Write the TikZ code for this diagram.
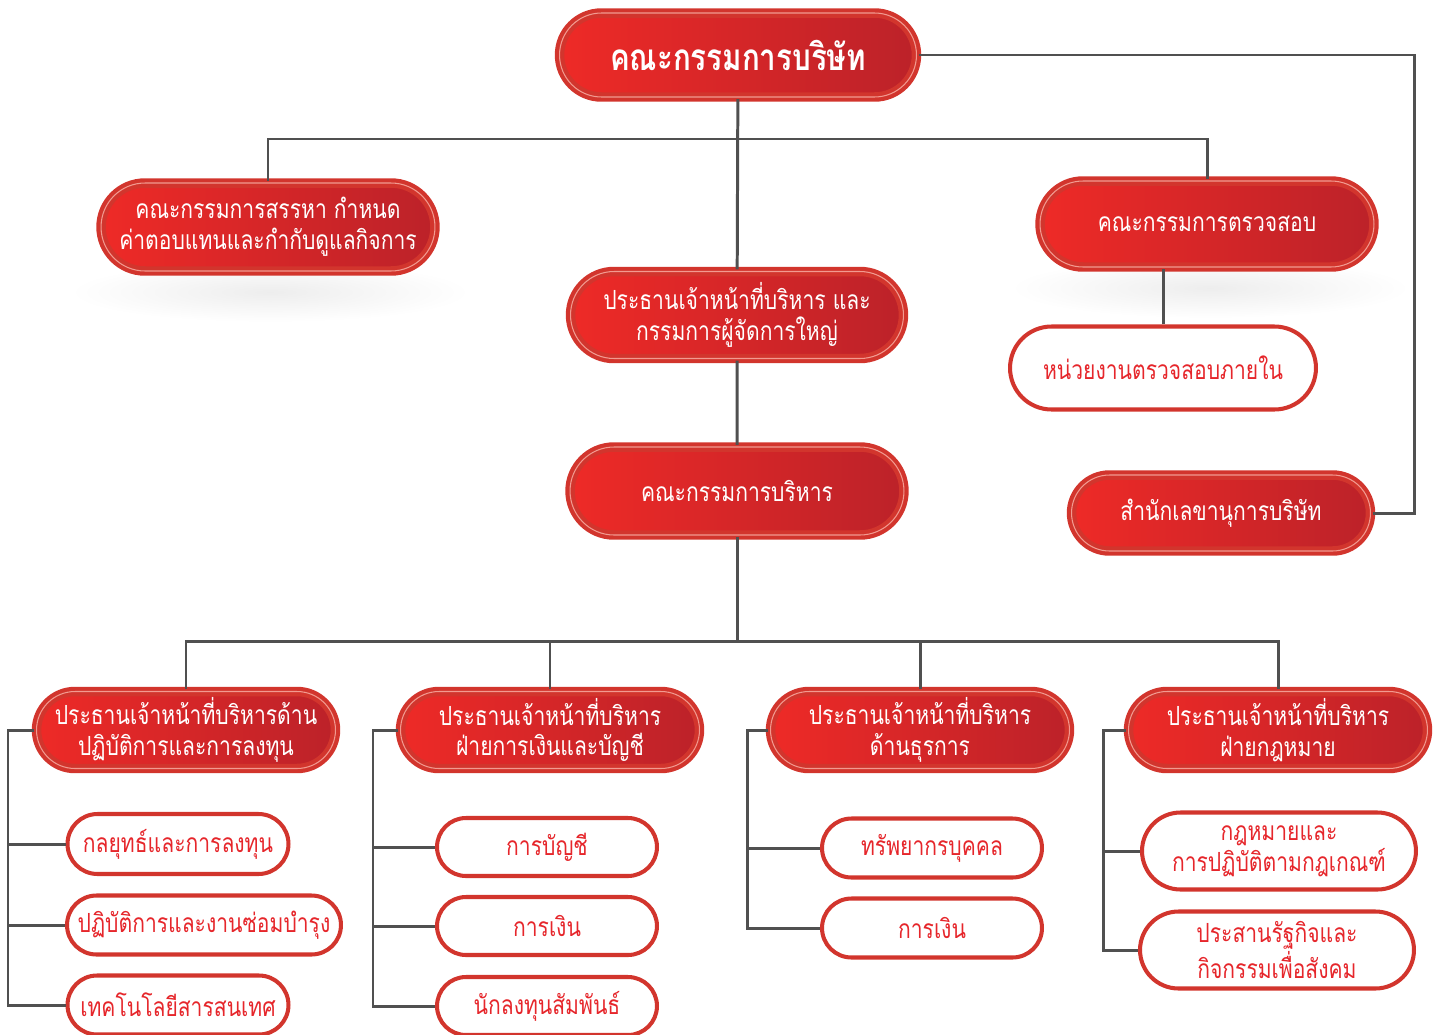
\documentclass[tikz,border=0pt]{standalone}
\usepackage{fontspec}
\newfontfamily\thaifont[Script=Thai,FakeStretch=0.8]{Loma}
\usetikzlibrary{shapes.misc}

\definecolor{fillleft}{HTML}{EE2A27}
\definecolor{fillright}{HTML}{BC2229}
\definecolor{rimred}{HTML}{D2352D}
\definecolor{linepink}{HTML}{F29A90}
\definecolor{textred}{HTML}{E6262B}
\definecolor{linegray}{HTML}{505050}

\tikzset{
  redbox/.style={rounded rectangle, draw=rimred, line width=2.4pt, double=linepink,
    double distance=0.6pt, left color=fillleft, right color=fillright, text=white,
    align=center, inner sep=0pt, font=\thaifont\fontsize{15}{17.5}\selectfont},
  whitebox/.style={rounded rectangle, draw=rimred, line width=2.3pt, fill=white,
    text=textred, align=center, inner sep=0pt, font=\thaifont\fontsize{15}{17.5}\selectfont},
  link/.style={draw=linegray, line width=1.7pt},
}

\begin{document}
\begin{tikzpicture}[x=0.02cm,y=-0.02cm]
\useasboundingbox (0,0) rectangle (1441,1035);

% soft shadows under the two committees
\shade[inner color=black!7, outer color=white] (270,292) ellipse [x radius=200, y radius=30];
\shade[inner color=black!7, outer color=white] (1210,288) ellipse [x radius=200, y radius=30];

% top part
\node[redbox, minimum width=7.14cm, minimum height=1.68cm,
  font=\thaifont\bfseries\fontsize{21}{24}\selectfont] (board) at (738,55) {คณะกรรมการบริษัท};
\node[redbox, minimum width=6.68cm, minimum height=1.76cm] (remun) at (268,227)
  {คณะกรรมการสรรหา กำหนด\\ค่าตอบแทนและกำกับดูแลกิจการ};
\node[redbox, minimum width=6.68cm, minimum height=1.72cm] (audit) at (1207,224) {คณะกรรมการตรวจสอบ};
\node[redbox, minimum width=6.66cm, minimum height=1.74cm] (ceo) at (737,315)
  {ประธานเจ้าหน้าที่บริหาร และ\\กรรมการผู้จัดการใหญ่};
\node[whitebox, minimum width=6.12cm, minimum height=1.66cm] (internal) at (1163,368) {หน่วยงานตรวจสอบภายใน};
\node[redbox, minimum width=6.68cm, minimum height=1.76cm] (exec) at (737,491) {คณะกรรมการบริหาร};
\node[redbox, minimum width=5.98cm, minimum height=1.52cm] (sec) at (1221,513) {สำนักเลขานุการบริษัท};

% second row
\node[redbox, minimum width=5.98cm, minimum height=1.54cm] (opsA) at (186,730)
  {ประธานเจ้าหน้าที่บริหารด้าน\\ปฏิบัติการและการลงทุน};
\node[redbox, minimum width=5.98cm, minimum height=1.54cm] (finB) at (550,730)
  {ประธานเจ้าหน้าที่บริหาร\\ฝ่ายการเงินและบัญชี};
\node[redbox, minimum width=5.98cm, minimum height=1.54cm] (bizC) at (920,730)
  {ประธานเจ้าหน้าที่บริหาร\\ด้านธุรการ};
\node[redbox, minimum width=5.98cm, minimum height=1.54cm] (lawD) at (1278,730)
  {ประธานเจ้าหน้าที่บริหาร\\ฝ่ายกฎหมาย};

% departments
\node[whitebox, minimum width=4.42cm, minimum height=1.2cm] (a1) at (178,844) {กลยุทธ์และการลงทุน};
\node[whitebox, minimum width=5.48cm, minimum height=1.18cm] (a2) at (204,925) {ปฏิบัติการและงานซ่อมบำรุง};
\node[whitebox, minimum width=4.42cm, minimum height=1.18cm] (a3) at (178,1005) {เทคโนโลยีสารสนเทศ};
\node[whitebox, minimum width=4.4cm, minimum height=1.16cm] (b1) at (547,847) {การบัญชี};
\node[whitebox, minimum width=4.4cm, minimum height=1.16cm] (b2) at (547,926) {การเงิน};
\node[whitebox, minimum width=4.4cm, minimum height=1.16cm] (b3) at (547,1006) {นักลงทุนสัมพันธ์};
\node[whitebox, minimum width=4.4cm, minimum height=1.18cm] (c1) at (932,848) {ทรัพยากรบุคคล};
\node[whitebox, minimum width=4.4cm, minimum height=1.18cm] (c2) at (932,928) {การเงิน};
\node[whitebox, minimum width=5.48cm, minimum height=1.54cm] (d1) at (1279,851)
  {กฎหมายและ\\การปฏิบัติตามกฎเกณฑ์};
\node[whitebox, minimum width=5.48cm, minimum height=1.54cm] (d2) at (1277,950)
  {ประสานรัฐกิจและ\\กิจกรรมเพื่อสังคม};

% connectors
\coordinate (topbus) at (738,139);
\coordinate (rbus) at (1414,300);
\coordinate (midbus) at (737,641);
\coordinate (busA) at (8,900);
\coordinate (busB) at (373,900);
\coordinate (busC) at (747,900);
\coordinate (busD) at (1103,900);

\draw[link] (board) -- (ceo);
\draw[link] (remun.north) |- (topbus) -| (audit.north);
\draw[link] (board.east) -| (rbus) |- (sec.east);
\draw[link] (internal.north) -- (internal.north |- audit.south);
\draw[link] (ceo) -- (exec);
\draw[link] (exec.south) -- (midbus);
\draw[link] (opsA.north) |- (midbus) -| (lawD.north);
\draw[link] (finB.north) |- (midbus);
\draw[link] (bizC.north) |- (midbus);

\draw[link] (opsA.west) -| (busA) |- (a3.west);
\foreach \k in {a1,a2} \draw[link] (busA |- \k.west) -- (\k.west);
\draw[link] (finB.west) -| (busB) |- (b3.west);
\foreach \k in {b1,b2} \draw[link] (busB |- \k.west) -- (\k.west);
\draw[link] (bizC.west) -| (busC) |- (c2.west);
\draw[link] (busC |- c1.west) -- (c1.west);
\draw[link] (lawD.west) -| (busD) |- (d2.west);
\draw[link] (busD |- d1.west) -- (d1.west);

\end{tikzpicture}
\end{document}
